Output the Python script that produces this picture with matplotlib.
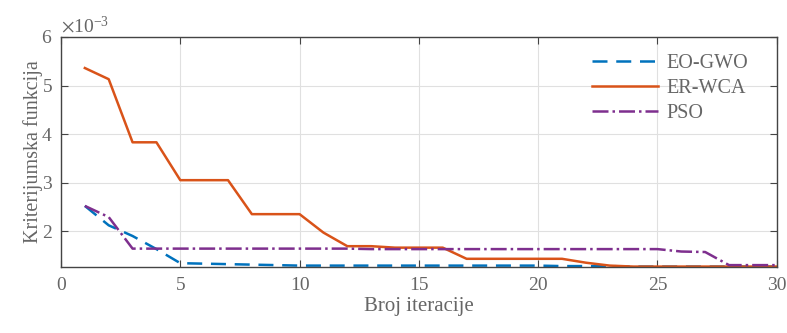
import matplotlib
matplotlib.use("Agg")
import matplotlib.pyplot as plt
from matplotlib.ticker import ScalarFormatter

iteracije = list(range(1, 31))

eo_gwo = [2.52, 2.12, 1.90, 1.63, 1.34, 1.33, 1.32, 1.31, 1.30, 1.29,
          1.29, 1.29, 1.29, 1.29, 1.29, 1.29, 1.29, 1.29, 1.29, 1.29,
          1.28, 1.28, 1.28, 1.27, 1.27, 1.27, 1.27, 1.27, 1.27, 1.27]
er_wca = [5.36, 5.13, 3.83, 3.83, 3.05, 3.05, 3.05, 2.35, 2.35, 2.35,
          1.97, 1.69, 1.69, 1.66, 1.66, 1.66, 1.43, 1.43, 1.43, 1.43,
          1.43, 1.35, 1.29, 1.27, 1.27, 1.27, 1.27, 1.27, 1.27, 1.27]
pso = [2.52, 2.29, 1.64, 1.64, 1.64, 1.64, 1.64, 1.64, 1.64, 1.64,
       1.64, 1.64, 1.63, 1.63, 1.63, 1.63, 1.63, 1.63, 1.63, 1.63,
       1.63, 1.63, 1.63, 1.63, 1.63, 1.58, 1.57, 1.30, 1.30, 1.30]

eo_gwo = [v * 1e-3 for v in eo_gwo]
er_wca = [v * 1e-3 for v in er_wca]
pso = [v * 1e-3 for v in pso]

plt.rcParams['font.family'] = ['Liberation Serif', 'DejaVu Serif']
plt.rcParams['mathtext.fontset'] = 'stix'

txt = '#666666'
fig = plt.figure(figsize=(7.87, 3.33), dpi=100)
ax = fig.add_axes([0.0775, 0.198, 0.9095, 0.691])

ax.plot(iteracije, eo_gwo, '--', color='#0072BD', lw=1.8, dashes=(6, 3.5), label='EO-GWO')
ax.plot(iteracije, er_wca, '-', color='#D95319', lw=1.8, label='ER-WCA')
ax.plot(iteracije, pso, '-.', color='#7E2F8E', lw=1.8, label='PSO')

ax.set_xlim(0, 30)
ax.set_ylim(1.26e-3, 6e-3)
ax.set_xticks([0, 5, 10, 15, 20, 25, 30])
ax.set_yticks([2e-3, 3e-3, 4e-3, 5e-3, 6e-3])

fmt = ScalarFormatter(useMathText=True)
fmt.set_powerlimits((-2, 2))
ax.yaxis.set_major_formatter(fmt)
ax.yaxis.get_offset_text().set_color(txt)
ax.yaxis.get_offset_text().set_fontsize(14)

ax.grid(True, color='#e0e0e0', lw=0.8)
ax.tick_params(direction='in', top=True, right=True, colors='#444444',
               labelcolor=txt, labelsize=14, length=5)
ax.tick_params(axis='x', pad=7)
ax.tick_params(axis='y', pad=6)
for s in ax.spines.values():
    s.set_color('#444444')
    s.set_linewidth(1.0)

ax.set_xlabel('Broj iteracije', fontsize=15, color=txt, labelpad=2)
ax.set_ylabel('Kriterijumska funkcija', fontsize=14.5, color=txt, labelpad=-1)

leg = ax.legend(loc='upper right', frameon=False, fontsize=14.5, handlelength=3.3,
                labelspacing=0.3, handletextpad=0.4, bbox_to_anchor=(0.985, 1.005))
for t in leg.get_texts():
    t.set_color(txt)

fig.savefig('out.png', dpi=100)
